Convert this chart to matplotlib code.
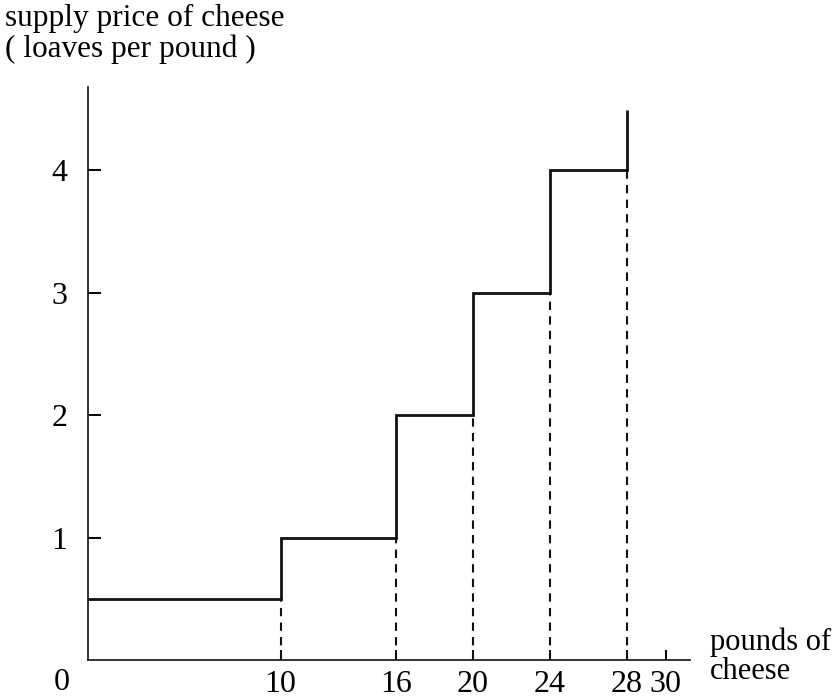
import matplotlib
matplotlib.use("Agg")
import matplotlib.pyplot as plt

# data
breaks = [0, 10, 16, 20, 24, 28]
prices = [0.5, 1, 2, 3, 4]
top_price = 4.49
x_ticks = [10, 16, 20, 24, 28, 30]
y_ticks = [1, 2, 3, 4]

plt.rcParams['font.family'] = ['Liberation Serif', 'DejaVu Serif']

W, H = 835, 698
fig = plt.figure(figsize=(W / 100, H / 100), dpi=100)
ax = fig.add_axes([88 / W, (H - 660) / H, (690 - 88) / W, (660 - 87) / H])

xs, ys = [], []
for i, p in enumerate(prices):
    xs += [breaks[i], breaks[i + 1]]
    ys += [p, p]
xs.append(breaks[-1])
ys.append(top_price)
ax.plot(xs, ys, color='#111111', lw=2.0, solid_capstyle='butt', solid_joinstyle='miter')

ax.vlines(breaks[1:], 0, prices, colors='#111111', linestyles=(0, (4, 3)), lw=1.5)

ax.set_xlim(0, 31.27)
ax.set_ylim(0, 4.68)
for s in ['top', 'right']:
    ax.spines[s].set_visible(False)
for s in ['left', 'bottom']:
    ax.spines[s].set_linewidth(1.3)
    ax.spines[s].set_color('#222222')

ax.set_xticks(x_ticks)
ax.set_xticklabels([str(v) for v in x_ticks])
ax.set_yticks(y_ticks)
ax.set_yticklabels([str(v) for v in y_ticks])
ax.tick_params(axis='x', direction='in', length=7.5, width=1.4, pad=7, labelsize=23)
ax.tick_params(axis='y', direction='in', length=9, width=1.4, pad=15, labelsize=23)

fig.text(62 / W, 1 - 683 / H, '0', ha='center', va='center', fontsize=23)
fig.text(5 / W, 1 - 34 / H, 'supply price of cheese\n( loaves per pound )', ha='left', va='center',
         fontsize=22.5, linespacing=1.05)
fig.text(710 / W, 1 - 657 / H, 'pounds of\ncheese', ha='left', va='center', fontsize=22, linespacing=1.0)

fig.savefig('out.png', dpi=100)
